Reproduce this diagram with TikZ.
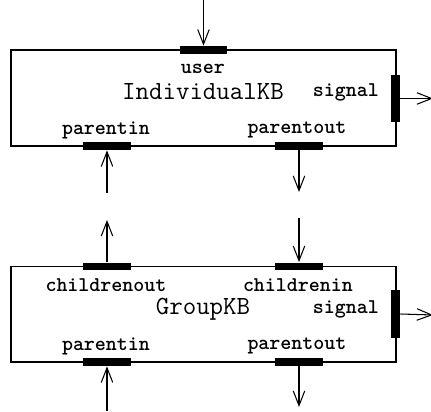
\documentclass[tikz,border=0pt]{standalone}
\usetikzlibrary{arrows.meta}
\begin{document}
\begin{tikzpicture}[x=0.4773pt,y=-0.4773pt,
  kbbox/.style={draw,line width=0.5pt},
  hport/.style={draw=none,fill=black,inner sep=0pt,minimum width=22.5pt,minimum height=3.8pt},
  vport/.style={draw=none,fill=black,inner sep=0pt,minimum width=4.3pt,minimum height=22.5pt},
  lbl/.style={inner sep=0pt,font=\fontsize{10}{12}\selectfont\ttfamily\bfseries},
  kbname/.style={inner sep=0pt,font=\fontsize{12.5}{14}\selectfont\ttfamily},
  conn/.style={line width=0.5pt,-{Straight Barb[length=7pt,width=5.5pt,line width=0.5pt]}}]
\useasboundingbox (0,0) rectangle (431,412);
% IndividualKB
\draw[kbbox] (11,50) rectangle (396,146);
\node[hport] (user) at (203.5,50) {};
\node[hport] (pin1) at (107,146) {};
\node[hport] (pout1) at (299,146) {};
\node[vport] (sig1) at (395.5,98.5) {};
\node[lbl] (luser) at (203,69) {user};
\node[kbname] (n1) at (203,92) {IndividualKB};
\node[lbl] (lsig1) at (346,92) {signal};
\node[lbl] (lpin1) at (106,130) {parentin};
\node[lbl] (lpout1) at (297,130) {parentout};
\coordinate (userSrc) at (203.5,0);
\coordinate (pin1Src) at (107,193);
\coordinate (pout1Dst) at (299,192);
\coordinate (sig1Dst) at (433,98.5);
\draw[conn] (userSrc) -- (user.north);
\draw[conn] (pin1Src) -- (pin1.south);
\draw[conn] (pout1.south) -- (pout1Dst);
\draw[conn] (sig1.east) -- (sig1Dst);
% GroupKB
\draw[kbbox] (11,266.5) rectangle (396,362);
\node[hport] (cout) at (107,266.5) {};
\node[hport] (cin) at (299,266.5) {};
\node[hport] (pin2) at (107,362) {};
\node[hport] (pout2) at (299,362) {};
\node[vport] (sig2) at (395.5,314) {};
\node[lbl] (lcout) at (106,285.5) {childrenout};
\node[lbl] (lcin) at (298,285.5) {childrenin};
\node[kbname] (n2) at (203,309) {GroupKB};
\node[lbl] (lsig2) at (346,309) {signal};
\node[lbl] (lpin2) at (106,346) {parentin};
\node[lbl] (lpout2) at (297,346) {parentout};
\coordinate (coutDst) at (107,220);
\coordinate (cinSrc) at (299,218);
\coordinate (pin2Src) at (107,411);
\coordinate (pout2Dst) at (299,407);
\coordinate (sig2Dst) at (433,315);
\draw[conn] (cout.north) -- (coutDst);
\draw[conn] (cinSrc) -- (cin.north);
\draw[conn] (pin2Src) -- (pin2.south);
\draw[conn] (pout2.south) -- (pout2Dst);
\draw[conn] (sig2.east) -- (sig2Dst);
\end{tikzpicture}
\end{document}
